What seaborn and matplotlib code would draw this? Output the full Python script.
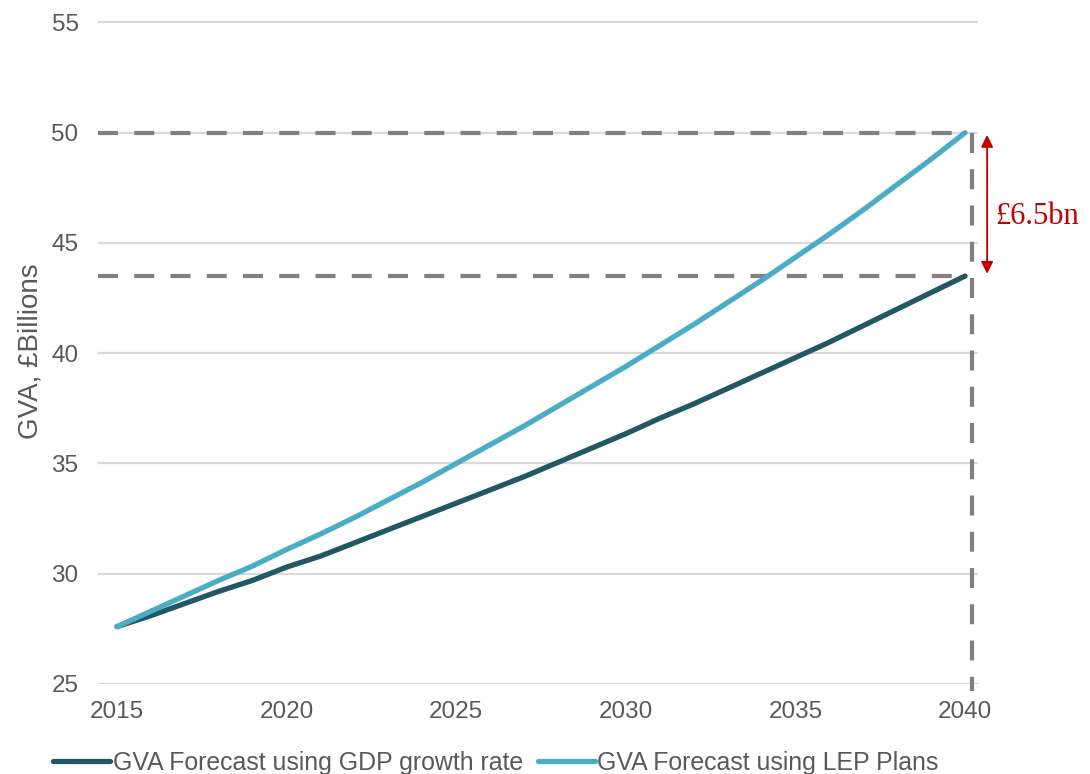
import matplotlib
matplotlib.use("Agg")
import matplotlib.pyplot as plt
import seaborn as sns
import pandas as pd

# GVA forecasts, £ billions
years = list(range(2015, 2041))
gdp_growth = [27.6, 28.1, 28.65, 29.2, 29.7, 30.3, 30.8, 31.4, 32.0, 32.6,
              33.2, 33.8, 34.4, 35.05, 35.7, 36.35, 37.05, 37.7, 38.4, 39.1,
              39.8, 40.5, 41.25, 42.0, 42.75, 43.5]
lep_plans = [27.6, 28.3, 29.0, 29.7, 30.35, 31.1, 31.8, 32.55, 33.35, 34.15,
             35.0, 35.85, 36.7, 37.6, 38.5, 39.4, 40.35, 41.3, 42.3, 43.3,
             44.35, 45.4, 46.5, 47.65, 48.8, 50.0]
series_names = ["GVA Forecast using GDP growth rate", "GVA Forecast using LEP Plans"]
series_colors = ["#215864", "#4BACC6"]
x_ticks = [2015, 2020, 2025, 2030, 2035, 2040]
y_ticks = [25, 30, 35, 40, 45, 50, 55]

df = pd.DataFrame({
    "Year": years * 2,
    "GVA": gdp_growth + lep_plans,
    "Series": [series_names[0]] * len(years) + [series_names[1]] * len(years),
})

sns.set_theme(style="white")
plt.rcParams["font.family"] = ["Liberation Sans", "DejaVu Sans"]

fig = plt.figure(figsize=(10.9, 7.74), dpi=100)
ax = fig.add_axes([0.0899, 0.1163, 0.8073, 0.8604])

txt = "#595959"
grid_c = "#D9D9D9"
dash_c = "#808080"

for y in y_ticks:
    ax.axhline(y, color=grid_c, lw=1.6, zorder=0)

sns.lineplot(data=df, x="Year", y="GVA", hue="Series", palette=series_colors,
             linewidth=3.8, ax=ax, legend=True, zorder=3,
             solid_capstyle="round")

x0, x1 = 2014.44, 2040.38
ax.set_xlim(x0, x1)
ax.set_ylim(25, 55.2)

# reference guides at the 2040 end values
end_gdp = gdp_growth[-1]
end_lep = lep_plans[-1]
end_year = years[-1]
dash = dict(color=dash_c, lw=3.0, dashes=(4.8, 3.9), zorder=2)
ax.plot([x0, end_year], [end_lep, end_lep], **dash)
ax.plot([x0, end_year], [end_gdp, end_gdp], **dash)
ax.plot([end_year + 0.2, end_year + 0.2], [end_lep, 24.7], clip_on=False, **dash)

# gap arrow and label
ax.annotate("", xy=(end_year + 0.65, end_lep - 0.1), xytext=(end_year + 0.65, end_gdp + 0.1),
            arrowprops=dict(arrowstyle="<|-|>", color="#C00000", lw=1.3,
                            mutation_scale=18, shrinkA=0, shrinkB=0),
            annotation_clip=False)
ax.text(end_year + 0.9, (end_lep + end_gdp) / 2 - 0.55, f"£{end_lep - end_gdp:.1f}bn",
        color="#C00000", fontsize=22, family=["Liberation Serif", "DejaVu Serif"],
        ha="left", va="center", clip_on=False)

ax.set_xticks(x_ticks)
ax.set_yticks(y_ticks)
ax.tick_params(axis="both", length=0, labelsize=17.5, labelcolor=txt)
ax.tick_params(axis="x", pad=12)
ax.tick_params(axis="y", pad=14)
ax.set_xlabel("")
ax.set_ylabel("GVA, £Billions", fontsize=20, color=txt, labelpad=6)
for s in ax.spines.values():
    s.set_visible(False)

handles, labels = ax.get_legend_handles_labels()
ax.get_legend().remove()
fig.legend(handles, labels, loc="center", bbox_to_anchor=(0.455, 0.014), ncol=2,
           frameon=False, fontsize=17.9, labelcolor=txt, handlelength=2.3,
           handletextpad=0.1, columnspacing=0.6, borderpad=0.1)

fig.savefig("out.png", dpi=100)
